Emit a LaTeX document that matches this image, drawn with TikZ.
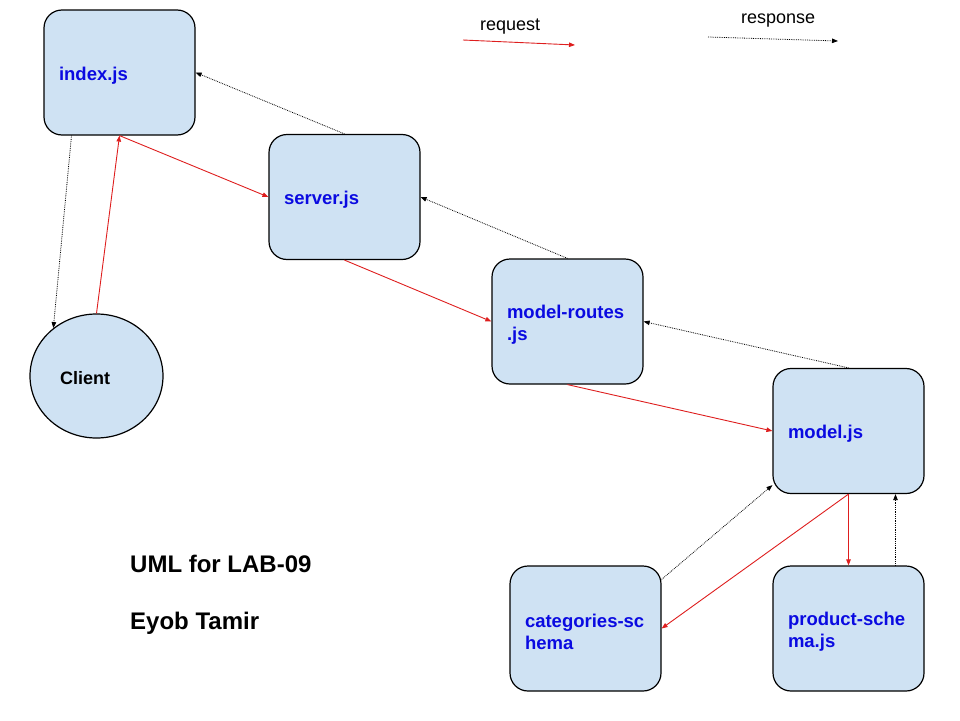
\documentclass[tikz,border=0pt]{standalone}
\usepackage{fontspec}
\setmainfont{Liberation Sans}
\usetikzlibrary{shapes.geometric,arrows.meta}
\definecolor{boxfill}{HTML}{CFE2F3}
\definecolor{jsblue}{RGB}{10,10,225}
\definecolor{reqred}{RGB}{222,30,30}
\tikzset{basic/.style={draw,line width=1.2pt,fill=boxfill}}
\tikzset{module/.style={basic,rounded corners=18pt,minimum width=151pt,minimum height=125pt,text width=121pt,inner xsep=15pt,inner ysep=0pt,align=left,text=jsblue,font=\fontsize{18.5}{22}\selectfont\bfseries,execute at begin node={\rule{0pt}{19.5pt}}}}
\tikzset{user/.style={basic,ellipse,minimum width=133pt,minimum height=124pt,inner sep=0pt}}
\tikzset{request/.style={draw=reqred,line width=0.9pt,-{Triangle[length=6pt,width=4.5pt]}}}
\tikzset{response/.style={draw=black,line width=0.8pt,densely dotted,-{Triangle[length=6pt,width=4.5pt]}}}
\tikzset{legend/.style={anchor=west,inner sep=0pt,font=\fontsize{18}{22}\selectfont}}
\tikzset{caption/.style={anchor=west,inner sep=0pt,font=\fontsize{24}{28}\selectfont\bfseries}}

\begin{document}
\begin{tikzpicture}[x=1pt,y=-1pt]
        \useasboundingbox (0,0) rectangle (960,720);
        % modules
        \node[module] (index) at (119.5,72.5) {index.js};
        \node[module] (server) at (344.5,197) {server.js};
        \node[module] (routes) at (567.5,321.5) {model-routes\\.js};
        \node[module] (model) at (848.5,431) {model.js};
        \node[module] (categories) at (585.5,628.5) {categories-sc\\hema};
        \node[module] (product) at (848.5,628.5) {product-sche\\ma.js};
        \node[user] (client) at (96.5,376) {};
        \node[anchor=west,inner sep=0pt,font=\fontsize{18}{22}\selectfont\bfseries] (clienttext) at (60,378) {Client};
        % legend
        \coordinate (reqstart) at (463,40);
        \coordinate (reqend) at (575,45);
        \coordinate (resstart) at (708,37);
        \coordinate (resend) at (838,41);
        \node[legend] (reqlabel) at (480,27) {request};
        \node[legend] (reslabel) at (741,21) {response};
            \path[request] (reqstart) -- (reqend);
            \path[response] (resstart) -- (resend);
        % requests
            \path[request] (client.north) -- (index.south);
            \path[request] (index.south) -- (server.west);
            \path[request] (server.south) -- (routes.west);
            \path[request] (routes.south) -- (model.west);
            \path[request] (model.south) -- (categories.east);
            \path[request] (model.south) -- (product.north);
        % responses
            \path[response] ([xshift=-48pt]index.south) -- (client.132);
            \path[response] (server.north) -- (index.east);
            \path[response] (routes.north) -- (server.east);
            \path[response] (model.north) -- (routes.east);
            \path[response] ([xshift=47pt]product.north) -- ([xshift=47pt]model.south);
            \path[response] ([yshift=-14pt]categories.north east) -- ([yshift=9pt]model.south west);
        % captions
        \node[caption] (title) at (130,564) {UML for LAB-09};
        \node[caption] (author) at (130,623) {Eyob Tamir};
    \end{tikzpicture}
\end{document}
